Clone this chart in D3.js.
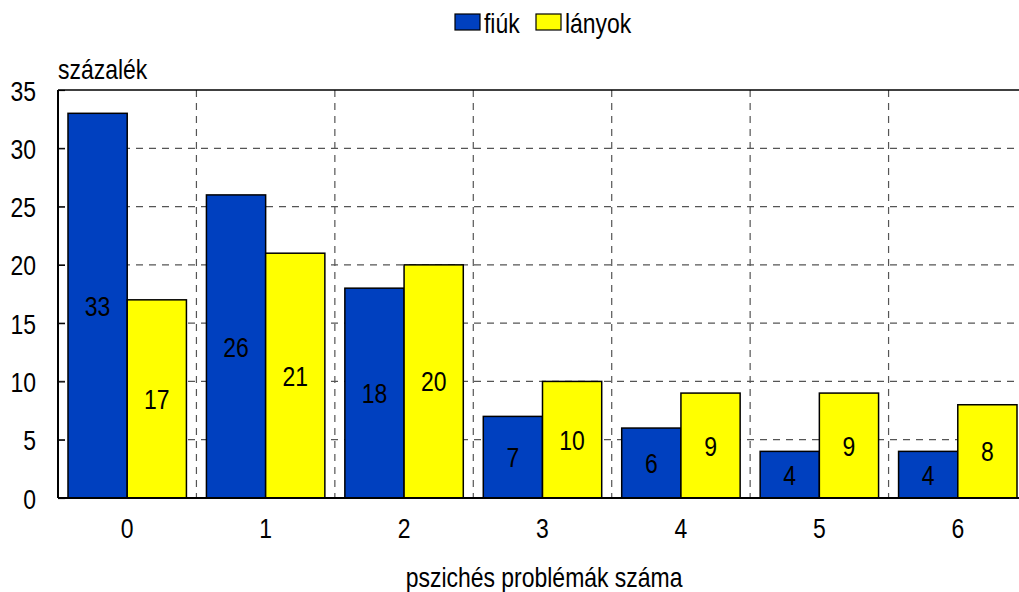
<!DOCTYPE html>
<html>
<head>
<meta charset="utf-8">
<script src="https://cdn.jsdelivr.net/npm/d3@7"></script>
<style>
  body { margin: 0; background: #fff; }
  svg { display: block; }
  text { font-family: "Liberation Sans Narrow", "Arial Narrow", "Liberation Sans", sans-serif; fill: #000; font-size: 28px;
         transform-box: fill-box; transform: scaleX(0.82); transform-origin: center; }
  text.l { transform-origin: left; }
  text.r { transform-origin: right; }
</style>
</head>
<body>
<svg width="1019" height="592"></svg>
<script>
var categories = ["0", "1", "2", "3", "4", "5", "6"];
var fiuk = [33, 26, 18, 7, 6, 4, 4];
var lanyok = [17, 21, 20, 10, 9, 9, 8];
var seriesNames = ["fiúk", "lányok"];
var seriesColors = ["#0040bf", "#ffff00"];
var yTicks = [0, 5, 10, 15, 20, 25, 30, 35];

var svg = d3.select("svg");
var margin = { top: 90, left: 58 },
	plotW = 969,
	plotH = 408;

var g = svg.append("g").attr("transform", "translate(" + margin.left + "," + margin.top + ")");

var x = d3.scaleBand().domain(categories).range([0, plotW]);
var xInner = d3.scaleBand().domain([0, 1]).range([10, x.bandwidth() - 10]);
var y = d3.scaleLinear().domain([0, 35]).range([plotH, 0]);

// grid
g.append("g").selectAll("line")
	.data(yTicks.filter(d => d > 0 && d < 35))
	.enter().append("line")
	.attr("x1", 0).attr("x2", plotW)
	.attr("y1", d => y(d)).attr("y2", d => y(d))
	.attr("stroke", "#555").attr("stroke-width", 1.2)
	.attr("stroke-dasharray", "7,6");

g.append("g").selectAll("line")
	.data(categories.slice(1))
	.enter().append("line")
	.attr("x1", d => x(d)).attr("x2", d => x(d))
	.attr("y1", 0).attr("y2", plotH)
	.attr("stroke", "#555").attr("stroke-width", 1.2)
	.attr("stroke-dasharray", "7,6");

// bars
var data = [];
categories.forEach(function (c, i) {
	data.push({ cat: c, s: 0, v: fiuk[i] });
	data.push({ cat: c, s: 1, v: lanyok[i] });
});

g.selectAll(".bar")
	.data(data)
	.enter().append("rect")
	.attr("class", "bar")
	.attr("x", d => x(d.cat) + xInner(d.s))
	.attr("width", xInner.bandwidth())
	.attr("y", d => y(d.v))
	.attr("height", d => plotH - y(d.v))
	.attr("fill", d => seriesColors[d.s])
	.attr("stroke", "#000")
	.attr("stroke-width", 1.5);

g.selectAll(".lbl")
	.data(data)
	.enter().append("text")
	.attr("class", "lbl")
	.attr("x", d => x(d.cat) + xInner(d.s) + xInner.bandwidth() / 2)
	.attr("y", d => (y(d.v) + plotH) / 2)
	.attr("dy", "0.36em")
	.attr("text-anchor", "middle")
	.text(d => d.v);

// axes
var yAxis = g.append("g")
	.call(d3.axisLeft(y).tickValues(yTicks).tickSize(-7).tickPadding(22));
yAxis.select(".domain").remove();
yAxis.selectAll("line").attr("stroke", "#000").attr("stroke-width", 1.2);
yAxis.selectAll("text").attr("class", "r").attr("dy", "0.36em");
yAxis.attr("font-size", null).attr("font-family", null);

g.append("line").attr("x1", 0).attr("x2", 0).attr("y1", 0).attr("y2", plotH)
	.attr("stroke", "#000").attr("stroke-width", 2);
g.append("line").attr("x1", 0).attr("x2", plotW).attr("y1", plotH).attr("y2", plotH)
	.attr("stroke", "#000").attr("stroke-width", 2);
g.append("line").attr("x1", 0).attr("x2", plotW).attr("y1", 0).attr("y2", 0)
	.attr("stroke", "#000").attr("stroke-width", 1.5);

var xAxis = g.append("g")
	.call(d3.axisBottom(x).tickSize(0).tickPadding(20))
	.attr("transform", "translate(0," + plotH + ")")
	.attr("font-size", null).attr("font-family", null);
xAxis.select(".domain").remove();

// titles
svg.append("text")
	.attr("class", "l")
	.attr("x", 58).attr("y", 79)
	.text("százalék");

svg.append("text")
	.attr("x", 544).attr("y", 587)
	.attr("text-anchor", "middle")
	.text("pszichés problémák száma");

// legend
var legend = svg.append("g").attr("transform", "translate(455,14)");
var legX = [0, 81];
seriesNames.forEach(function (n, i) {
	legend.append("rect")
		.attr("x", legX[i]).attr("y", 0)
		.attr("width", 25).attr("height", 16)
		.attr("fill", seriesColors[i])
		.attr("stroke", "#000").attr("stroke-width", 1.2);
	legend.append("text")
		.attr("class", "l")
		.attr("x", legX[i] + 29).attr("y", 19)
		.text(n);
});
</script>
</body>
</html>
